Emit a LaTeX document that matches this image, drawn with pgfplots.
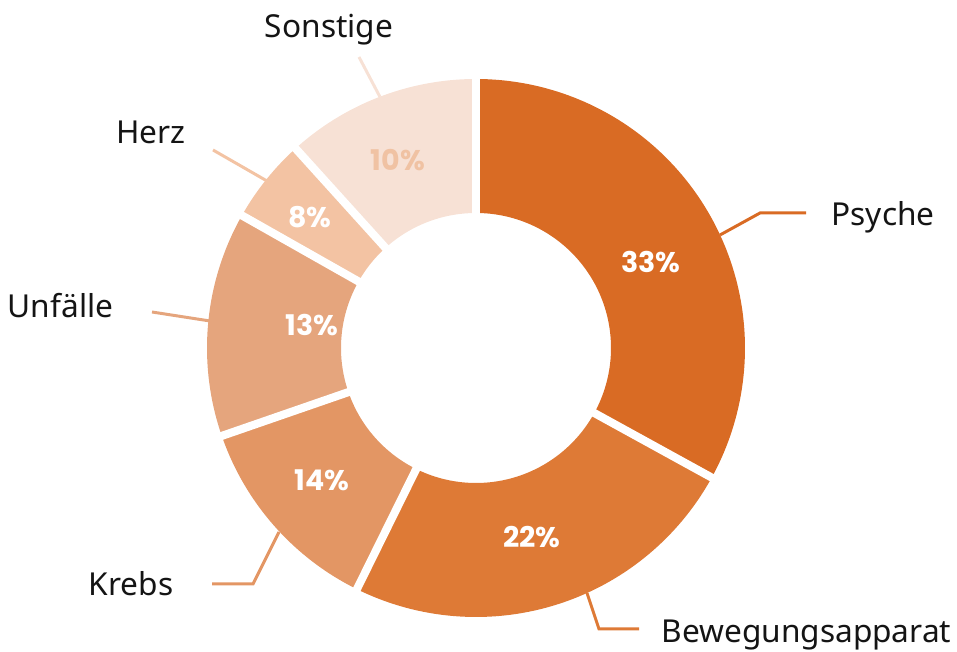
\documentclass[border=0pt]{standalone}
\usepackage{pgfplots}
\pgfplotsset{compat=1.18}
\usepackage{fontspec}
\setmainfont{Noto Sans}
\newfontfamily\pctfont{Poppins}[BoldFont=* Bold]
\definecolor{cPsy}{HTML}{D96B24}
\definecolor{cBew}{HTML}{DE7A36}
\definecolor{cKre}{HTML}{E39664}
\definecolor{cUnf}{HTML}{E5A57D}
\definecolor{cHer}{HTML}{F3C3A3}
\definecolor{cSon}{HTML}{F7E1D5}
\definecolor{cSonTxt}{HTML}{F0C2A3}
% slice shares as drawn (percent of the ring)
\def\vPsy{33}\def\vBew{24.3}\def\vKre{12.4}\def\vUnf{13.5}\def\vHer{5.1}\def\vSon{11.7}
\pgfmathsetmacro\aA{90}
\pgfmathsetmacro\aB{\aA-3.6*\vPsy}
\pgfmathsetmacro\aC{\aB-3.6*\vBew}
\pgfmathsetmacro\aD{\aC-3.6*\vKre}
\pgfmathsetmacro\aE{\aD-3.6*\vUnf}
\pgfmathsetmacro\aF{\aE-3.6*\vHer}
\pgfmathsetmacro\aG{\aF-3.6*\vSon}
\def\cx{476}\def\cy{304}\def\Ro{269}\def\Ri{135}
% ring slice: t in [0,1] outer arc, [1,2] inner arc back
\newcommand\slice[3]{%
\addplot[fill=#1, draw=none, variable=\t, domain=0:2, samples=201]
 ({\cx + ((\t<1.0001) ? (\Ro*cos(#2+(#3-#2)*\t)) : (\Ri*cos(#3+(#2-#3)*(\t-1))))},
  {\cy + ((\t<1.0001) ? (\Ro*sin(#2+(#3-#2)*\t)) : (\Ri*sin(#3+(#2-#3)*(\t-1))))});
}
\newcommand\sep[1]{%
\addplot[white, line width=2.3pt, variable=\t, domain=\Ri-5:\Ro+5, samples=2]
 ({\cx+\t*cos(#1)},{\cy+\t*sin(#1)});
}
\begin{document}
\begin{tikzpicture}
\begin{axis}[
  scale only axis, width=9.57cm, height=6.52cm,
  xmin=0, xmax=957, ymin=0, ymax=652,
  hide axis, clip=false,
]
\slice{cPsy}{\aA}{\aB}
\slice{cBew}{\aB}{\aC}
\slice{cKre}{\aC}{\aD}
\slice{cUnf}{\aD}{\aE}
\slice{cHer}{\aE}{\aF}
\slice{cSon}{\aF}{\aG}
\sep{\aA}\sep{\aB}\sep{\aC}\sep{\aD}\sep{\aE}\sep{\aF}
% leader lines
\addplot[cPsy, line width=0.85pt] coordinates {(720,417) (760,439) (806,439)};
\addplot[cBew, line width=0.85pt] coordinates {(587,59) (599,23) (639,23)};
\addplot[cKre, line width=0.85pt] coordinates {(279,120) (253,68) (212,68)};
\addplot[cUnf, line width=0.85pt] coordinates {(210,331) (152,340)};
\addplot[cHer, line width=0.85pt] coordinates {(267,471) (213,502)};
\addplot[cSon, line width=0.85pt] coordinates {(380,555) (359,595)};
% percent labels
\begin{scope}[every node/.style={font=\pctfont\bfseries\fontsize{8.1}{9}\selectfont, inner sep=0pt}]
\node[white] at (axis cs:651,390) {33\%};
\node[white] at (axis cs:532,115) {22\%};
\node[white] at (axis cs:322,172) {14\%};
\node[white] at (axis cs:312,327) {13\%};
\node[white] at (axis cs:310,435) {8\%};
\node[cSonTxt] at (axis cs:398,492) {10\%};
\end{scope}
% category labels
\begin{scope}[every node/.style={font=\fontsize{9.0}{11}\selectfont, inner sep=0pt, text=black!92}]
\node[anchor=base west] at (axis cs:831,426) {Psyche};
\node[anchor=base west] at (axis cs:661,9) {Bewegungsapparat};
\node[anchor=base east] at (axis cs:174,56) {Krebs};
\node[anchor=base east] at (axis cs:114,334) {Unfälle};
\node[anchor=base east] at (axis cs:186,508) {Herz};
\node[anchor=base] at (axis cs:329,614) {Sonstige};
\end{scope}
\end{axis}
\pgfresetboundingbox
\path[use as bounding box] (0,0) rectangle (9.57cm,6.52cm);
\end{tikzpicture}
\end{document}
